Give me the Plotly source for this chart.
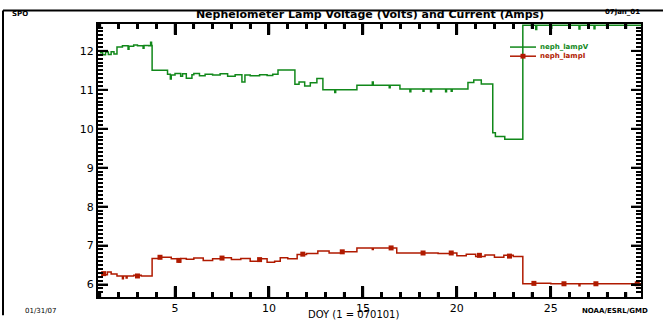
import plotly.graph_objects as go

# Voltage (green) step series: day, value
volt_days = [1.0, 1.15, 1.3, 1.45, 1.6, 1.75, 1.91, 2.2, 2.5, 2.55, 2.8, 3.0, 3.3, 3.35, 3.6, 3.7, 3.75,
             3.78, 4.6, 4.75, 4.8, 5.0, 5.3, 5.4, 5.6, 5.9, 6.0, 6.3, 6.6, 7.0, 7.4, 7.8, 8.2,
             8.56, 8.72, 9.0, 9.5, 9.9, 10.2, 10.48, 11.38, 11.6, 11.9, 12.2, 12.55, 12.87,
             13.5, 13.55, 14.0, 14.68, 15.0, 15.5, 15.55, 16.0, 16.4, 16.45, 16.97, 17.5, 17.55,
             18.2, 18.25, 18.6, 18.65, 19.4, 19.45, 19.7, 19.75, 20.59, 20.9, 21.3, 21.91,
             22.05, 22.55, 23.51, 24.2, 24.25, 25.0, 25.05, 26.0, 26.5, 26.55, 27.3, 27.35,
             28.0, 28.05, 29.0, 29.8]
volt_vals = [11.95, 11.90, 11.97, 11.91, 11.98, 11.92, 12.10, 12.13, 12.04, 12.12, 12.15, 12.13, 12.07, 12.14,
             12.13, 12.22, 12.14,
             11.50, 11.40, 11.28, 11.38, 11.42, 11.35, 11.41, 11.30, 11.39, 11.42, 11.36, 11.40, 11.38, 11.41, 11.35, 11.39,
             11.20, 11.38, 11.36, 11.39, 11.37, 11.40, 11.51, 11.14, 11.20, 11.10, 11.18, 11.29, 11.00,
             10.93, 11.00, 11.00, 11.12, 11.12, 11.20, 11.12, 11.12, 11.05, 11.12, 11.02, 10.95, 11.02,
             10.96, 11.02, 10.95, 11.02, 10.95, 11.02, 10.96, 11.02, 11.19, 11.25, 11.15, 9.90,
             9.80, 9.73, 12.66, 12.55, 12.66, 12.58, 12.66, 12.66, 12.56, 12.66, 12.57, 12.66,
             12.60, 12.66, 12.66, 12.66]

# Current (red) step series: day, value
curr_days = [1.0, 1.2, 1.4, 1.6, 1.91, 2.2, 2.25, 2.4, 2.45, 2.8, 3.2, 3.78, 4.2, 4.8, 5.2, 5.3,
             5.6, 6.0, 6.5, 7.0, 7.5, 8.0, 8.5, 9.0, 9.5, 9.9, 10.3, 10.6, 11.0, 11.5, 12.0,
             12.6, 13.2, 13.9, 14.68, 15.2, 15.5, 15.55, 16.5, 16.8, 17.5, 18.2, 19.0, 19.7,
             20.0, 20.5, 21.0, 21.5, 22.0, 22.5, 23.0, 23.51, 24.1, 25.0, 26.0, 26.5, 26.55,
             27.4, 28.2, 29.8]
curr_vals = [6.30, 6.25, 6.32, 6.27, 6.22, 6.15, 6.22, 6.17, 6.22, 6.24, 6.22, 6.67, 6.70, 6.66, 6.58, 6.67,
             6.65, 6.68, 6.62, 6.66, 6.69, 6.64, 6.67, 6.60, 6.66, 6.57, 6.60, 6.69, 6.66, 6.77, 6.80,
             6.86, 6.81, 6.84, 6.94, 6.94, 6.90, 6.94, 6.94, 6.81, 6.81, 6.81, 6.80, 6.81,
             6.74, 6.78, 6.72, 6.76, 6.70, 6.75, 6.72, 6.02, 6.03, 6.02, 6.02, 5.97, 6.02,
             6.02, 6.02, 6.02]

# Square marker samples
curr_mark_days = [1.2, 3.0, 4.2, 5.2, 7.5, 9.5, 11.8, 13.9, 16.5, 18.2, 19.7, 21.2, 22.8, 24.1, 25.7, 27.4, 29.6]
curr_mark_vals = [6.28, 6.22, 6.70, 6.62, 6.68, 6.64, 6.78, 6.84, 6.94, 6.81, 6.81, 6.75, 6.73, 6.03, 6.02, 6.02, 6.02]

series_names = ["neph_lampV", "neph_lampI"]
x_range = [0.9, 29.8]
y_range = [5.68, 12.69]
x_major_step = 5
y_major_step = 1

green = "#11881a"
red = "#b01a00"
font_fam = "DejaVu Sans"

fig = go.Figure()
fig.add_trace(go.Scatter(x=volt_days, y=volt_vals, mode="lines", name=series_names[0], showlegend=False,
                         line=dict(color=green, width=1.5, shape="hv")))
fig.add_trace(go.Scatter(x=curr_days, y=curr_vals, mode="lines", name=series_names[1], showlegend=False,
                         line=dict(color=red, width=1.5, shape="hv")))
fig.add_trace(go.Scatter(x=curr_mark_days, y=curr_mark_vals, mode="markers", showlegend=False,
                         marker=dict(color=red, size=5, symbol="square")))

fig.update_xaxes(range=x_range, showline=True, linecolor="black", linewidth=2, mirror="ticks",
                 ticks="inside", tickcolor="black", ticklen=11, tickwidth=2.5, dtick=x_major_step, tick0=0,
                 showgrid=False, zeroline=False, layer="above traces",
                 tickfont=dict(family=font_fam, size=11, color="black"),
                 minor=dict(dtick=1, ticklen=5, tickwidth=2.5, ticks="inside", tickcolor="black"))
fig.update_yaxes(range=y_range, showline=True, linecolor="black", linewidth=2, mirror="ticks",
                 ticks="inside", tickcolor="black", ticklen=10, tickwidth=2, dtick=y_major_step, tick0=0,
                 showgrid=False, zeroline=False, layer="above traces",
                 tickfont=dict(family=font_fam, size=11, color="black"),
                 minor=dict(dtick=0.1, ticklen=5, tickwidth=1.5, ticks="inside", tickcolor="black"))

W, H = 663, 327
L, R, T, B = 98, 22, 24, 19
pw, ph = W - L - R, H - T - B

def px(xp, yp):
    return (xp - L) / pw, (H - B - yp) / ph

fig.update_layout(title=dict(text="<b>Nephelometer Lamp Voltage (Volts) and Current (Amps)</b>",
                             x=370 / W, y=1 - 14 / H, xanchor="center", yanchor="middle",
                             font=dict(family=font_fam, size=11, color="black")))

ann_specs = [
    ("DOY (1 = 070101)", 353, 326, "center", 10, "black"),
    ("<b>" + series_names[0] + "</b>", 538, 48, "left", 7, green),
    ("<b>" + series_names[1] + "</b>", 538, 57.5, "left", 7, red),
    ("<b>SPO</b>", 20, 14, "center", 7, "black"),
    ("<b>07jan_01</b>", 622, 12, "center", 7, "black"),
    ("01/31/07", 40, 323, "center", 7, "black"),
    ("<b>NOAA/ESRL/GMD</b>", 615, 323, "center", 7, "black"),
]
ann = []
for text, xp, yp, xa, size, col in ann_specs:
    ax, ay = px(xp, yp)
    ann.append(dict(text=text, x=ax, y=ay, xref="paper", yref="paper", xanchor=xa, yanchor="middle",
                    showarrow=False, font=dict(family=font_fam, size=size, color=col)))
fig.update_layout(annotations=ann)

shapes = []
# tick marks on all four sides, positioned on the axes' own scales
def x_tick(t, length_px, width):
    h = length_px / ph
    for y0, y1 in [(0, h), (1, 1 - h)]:
        shapes.append(dict(type="line", xref="x", yref="y domain", x0=t, x1=t, y0=y0, y1=y1,
                           line=dict(color="black", width=width)))

def y_tick(t, length_px, width):
    w = length_px / pw
    for x0, x1 in [(0, w), (1, 1 - w)]:
        shapes.append(dict(type="line", xref="x domain", yref="y", x0=x0, x1=x1, y0=t, y1=t,
                           line=dict(color="black", width=width)))

for i in range(int(x_range[0]) + 1, int(x_range[1]) + 1):
    if i % x_major_step == 0:
        x_tick(i, 11, 2.5)
    else:
        x_tick(i, 5, 2.5)
k0 = int(round(y_range[0] * 10)) + 1
k1 = int(y_range[1] * 10)
for k in range(k0, k1 + 1):
    v = k / 10
    if k % (10 * y_major_step) == 0:
        y_tick(v, 10, 2)
    else:
        y_tick(v, 5, 1.2)

for (x0, x1, yy, col) in [(510, 536, 48, green), (510, 536, 57.5, red)]:
    a0, b0 = px(x0, yy)
    a1, _ = px(x1, yy)
    shapes.append(dict(type="line", xref="paper", yref="paper", x0=a0, x1=a1, y0=b0, y1=b0,
                       line=dict(color=col, width=1.5)))
sx0, sy0 = px(520.5, 55)
sx1, sy1 = px(525.5, 60)
shapes.append(dict(type="rect", xref="paper", yref="paper", x0=sx0, x1=sx1, y0=sy1, y1=sy0,
                   fillcolor=red, line=dict(width=0)))
# page frame lines
fx0, fy0 = px(3, 10)
fx1, fy1 = px(663, 327)
shapes.append(dict(type="line", xref="paper", yref="paper", x0=fx0, x1=fx1, y0=fy0, y1=fy0,
                   line=dict(color="black", width=2)))
shapes.append(dict(type="line", xref="paper", yref="paper", x0=fx0, x1=fx0, y0=fy0, y1=fy1,
                   line=dict(color="black", width=2)))
fig.update_layout(shapes=shapes)

fig.update_layout(width=W, height=H, margin=dict(l=L, r=R, t=T, b=B), plot_bgcolor="white",
                  paper_bgcolor="white", showlegend=False)
fig.write_html("out.html", config={"displayModeBar": False},
               post_script="document.body.style.margin='0px';document.body.style.overflow='hidden';")
